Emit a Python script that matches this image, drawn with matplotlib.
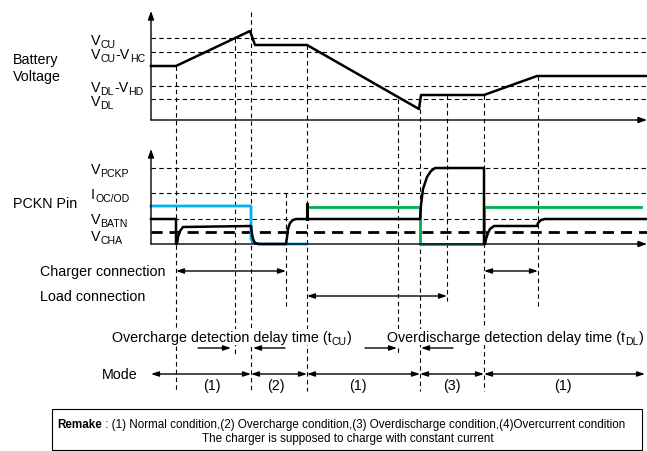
import numpy as np
import matplotlib.pyplot as plt

plt.rcParams['font.family'] = ['Liberation Sans', 'DejaVu Sans']

# event times (diagram x units) and levels (diagram y units, top = 0)
t_start, t_end = 151, 645

# battery voltage panel levels
bat_base = 121
bat_levels = [39, 53, 87, 100]
bat_labels = [[('V', 0), ('CU', 1)],
              [('V', 0), ('CU', 1), ('-V', 0), ('HC', 1)],
              [('V', 0), ('DL', 1), ('-V', 0), ('HD', 1)],
              [('V', 0), ('DL', 1)]]
bat_label_y = [40, 54, 87, 101]
bat_t = [151, 176, 250, 255, 307, 419, 421, 484, 537, 647]
bat_v = [67, 67, 32, 46, 46, 110, 96, 96, 77, 77]

# PCKN panel levels
pck_base = 245
pck_levels = [169, 194, 220]
v_cha = 233
pck_labels = [[('V', 0), ('PCKP', 1)],
              [('I', 0), ('OC/OD', 1)],
              [('V', 0), ('BATN', 1)],
              [('V', 0), ('CHA', 1)]]
pck_label_y = [169, 194, 219, 236]

blue_t = [151, 251, 251, 254, 258, 307]
blue_v = [207, 207, 240, 244, 245, 245]
green_t = [307, 420, 420, 484, 484, 641]
green_v = [208, 208, 245, 245, 208, 208]
pin_t = [151, 176, 176, 177, 178, 180, 183, 251, 252, 253, 255, 259, 286, 287, 288,
         290, 293, 296, 307, 420, 421, 423, 427, 431, 435, 484, 484, 485, 486, 488,
         490, 494, 537, 538, 541, 545, 647]
pin_v = [220, 220, 245, 245, 238, 232, 228, 227, 235, 240, 244, 245, 245, 238, 230,
         224, 221, 220, 220, 220, 206, 190, 178, 172, 169, 169, 245, 245, 240, 234,
         230, 227, 227, 224, 221, 220, 220]
spike_t = 307
spike_v = [205, 220]

# vertical dashed guide lines: x, top, bottom
guides = [(176, 67, 392), (235, 39, 355), (251, 13, 392), (286, 194, 307),
          (307, 46, 392), (398, 100, 355), (420, 110, 392), (447, 96, 302),
          (484, 96, 392), (538, 77, 307)]

# connection arrows: y, x0, x1
charger = [(272, 176, 286), (272, 484, 538)]
load = [(297, 307, 447)]
delay_arrows = [(198, 231), (285, 253), (365, 397), (453, 421)]
mode_bounds = [151, 251, 307, 420, 484, 645]
mode_names = ['(1)', '(2)', '(1)', '(3)', '(1)']
mode_label_x = [212, 276, 358, 452, 563]

fig = plt.figure(figsize=(6.47, 4.52), dpi=100)
ax = fig.add_axes([0, 0, 1, 1])
ax.set_xlim(0, 647)
ax.set_ylim(452, 0)
ax.axis('off')
renderer = fig.canvas.get_renderer()

fs = 10.3
dash = dict(color='black', lw=0.8, ls=(0, (4, 3)))


def rich(x, y, parts, size=fs, sub_size=7.6, drop=2.5, **kw):
    # text with subscripts, y is the middle of the capitals
    base = y + size * 100 / 72 * 0.716 / 2
    for s, sub in parts:
        t = ax.text(x, base + (drop if sub else 0), s, fontsize=sub_size if sub else size,
                    va='baseline', **kw)
        x += t.get_window_extent(renderer).width


# horizontal guide lines
for y in bat_levels + pck_levels:
    ax.plot([t_start, 647], [y, y], **dash)
for x, y0, y1 in guides:
    ax.plot([x, x], [y0, y1], **dash)

# axes with arrows
axis_arrow = dict(arrowstyle='-|>,head_length=0.5,head_width=0.18', color='black', lw=1.0,
                  shrinkA=0, shrinkB=0)
for base, top in [(bat_base, 12), (pck_base, 150)]:
    ax.annotate('', xy=(t_start, top), xytext=(t_start, base), arrowprops=axis_arrow)
    ax.annotate('', xy=(647, base), xytext=(t_start, base), arrowprops=axis_arrow)

# signals
ax.plot([t_start, 647], [v_cha, v_cha], color='black', lw=2.0, ls=(0, (4, 2.5)))
ax.plot(blue_t, blue_v, color='#00b0f0', lw=2.0)
ax.plot(green_t, green_v, color='#00b050', lw=2.0)
ax.plot(pin_t, pin_v, color='black', lw=1.8)
ax.plot([spike_t, spike_t], spike_v, color='black', lw=2.2)
ax.plot(bat_t, bat_v, color='black', lw=1.8)

# left labels
ax.text(13, 60, 'Battery', fontsize=fs, va='center')
ax.text(13, 77, 'Voltage', fontsize=fs, va='center')
ax.text(13, 204, 'PCKN Pin', fontsize=fs, va='center')
for y, lab in zip(bat_label_y, bat_labels):
    rich(91, y, lab)
for y, lab in zip(pck_label_y, pck_labels):
    rich(91, y, lab)

# connection arrows
both = dict(arrowstyle='<|-|>,head_length=0.45,head_width=0.15', color='black', lw=1.0,
            shrinkA=0, shrinkB=0)
one = dict(arrowstyle='-|>,head_length=0.45,head_width=0.15', color='black', lw=1.0,
           shrinkA=0, shrinkB=0)
ax.text(40, 272, 'Charger connection', fontsize=fs, va='center')
ax.text(40, 297, 'Load connection', fontsize=fs, va='center')
for y, x0, x1 in charger + load:
    ax.annotate('', xy=(x1, y), xytext=(x0, y), arrowprops=both)

# delay time labels
wb = dict(facecolor='white', edgecolor='none', pad=0.5)
rich(112, 337, [('Overcharge detection delay time (t', 0), ('CU', 1), (')', 0)], bbox=wb)
rich(387, 337, [('Overdischarge detection delay time (t', 0), ('DL', 1), (')', 0)], bbox=wb)
for x0, x1 in delay_arrows:
    ax.annotate('', xy=(x1, 349), xytext=(x0, 349), arrowprops=one)

# mode row
ax.text(102, 375, 'Mode', fontsize=fs, va='center')
for a, b in zip(mode_bounds[:-1], mode_bounds[1:]):
    ax.annotate('', xy=(b, 375), xytext=(a, 375), arrowprops=both)
for x, name in zip(mode_label_x, mode_names):
    ax.text(x, 386, name, fontsize=fs, ha='center', va='center')

# remark box
ax.add_patch(plt.Rectangle((52, 410), 590, 41, fill=False, edgecolor='black', lw=0.8))
t1 = ax.text(57, 425, 'Remake', fontsize=8.4, fontweight='bold', va='center')
ax.annotate(' : (1) Normal condition,(2) Overcharge condition,(3) Overdischarge condition,'
            '(4)Overcurrent condition', xy=(1, 0.5), xycoords=t1, fontsize=8.4, va='center')
ax.text(348, 439, 'The charger is supposed to charge with constant current', fontsize=8.4,
        ha='center', va='center')

fig.savefig('out.png', dpi=100)
